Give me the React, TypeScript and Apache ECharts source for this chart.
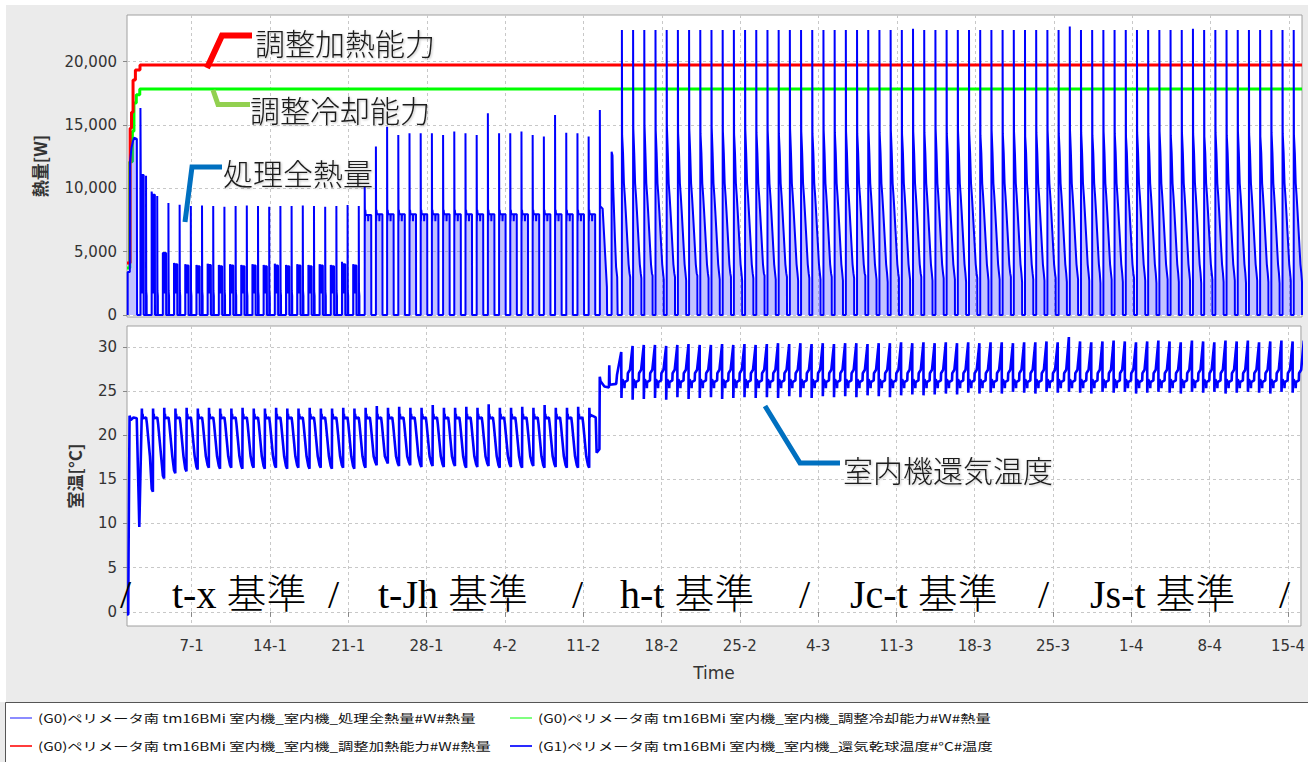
import React, { useEffect, useRef } from "react";
import * as echarts from "echarts";

// ---------------- axis ticks ----------------
// x unit: day number, 1.0 = 1 Jan 00:00
const xTickDays = [7, 14, 21, 28, 35, 42, 49, 56, 63, 70, 77, 84, 91, 98, 105];
const xTickLabels = ["7-1", "14-1", "21-1", "28-1", "4-2", "11-2", "18-2", "25-2", "4-3", "11-3", "18-3", "25-3", "1-4", "8-4", "15-4"];
const heatTicks = [0, 5000, 10000, 15000, 20000];
const heatTickLabels = ["0", "5,000", "10,000", "15,000", "20,000"];
const tempTicks = [0, 5, 10, 15, 20, 25, 30];

const seriesNames = [
  "(G0)ペリメータ南 tm16BMi 室内機_室内機_処理全熱量#W#熱量",
  "(G0)ペリメータ南 tm16BMi 室内機_室内機_調整冷却能力#W#熱量",
  "(G0)ペリメータ南 tm16BMi 室内機_室内機_調整加熱能力#W#熱量",
  "(G1)ペリメータ南 tm16BMi 室内機_室内機_還気乾球温度#°C#温度",
];

const phaseLabels = ["t-x 基準", "t-Jh 基準", "h-t 基準", "Jc-t 基準", "Js-t 基準"];

// ---------------- capacities (step: value from that day on) ----------------
const heatingCapacity: [number, number][] = [[1.22, 4100], [1.5, 14750], [1.62, 16000], [1.76, 18560], [1.97, 19350], [2.38, 19750], [106.16, 19750]];
const coolingCapacity: [number, number][] = [[1.22, 3700], [1.47, 12100], [1.7, 14500], [1.84, 16750], [2.05, 17400], [2.36, 17850], [106.16, 17850]];

// ---------------- 処理全熱量 (W) ----------------
const startupHeat: [number, number][] = [[1.28, 0], [1.28, 3400], [1.47, 3400], [1.49, 12100], [1.62, 13200], [1.75, 13700], [1.85, 14000], [2.1, 13900], [2.12, 0]];
// t-x period, days 2..21
const txBlockTop = [16350, 9750, 4900, 4100, 4000, 3950, 4050, 3950, 4000, 3950, 4000, 3950, 4050, 3950, 4000, 3950, 4000, 3950, 4200, 4000];
const txBlockLevel = [11050, 9500, 4900, 4000, 3900, 3850, 3950, 3850, 3900, 3850, 3900, 3850, 3900, 3850, 3900, 3850, 3900, 3850, 4000, 3900];
const txSpike = [11000, 9400, 8850, 8700, 8600, 8650, 8600, 8550, 8600, 8650, 8600, 8550, 8600, 8600, 8650, 8600, 8550, 8600, 8690, 8600];
// t-Jh period, days 22..42
const jhSpike = [10140, 13300, 14870, 14220, 14350, 14350, 14350, 14220, 14480, 14350, 14220, 15930, 14350, 14350, 14480, 14220, 14090, 15800, 14400, 14350, 14090];
const jhLevel = [7900, 7950, 7950, 7950, 7950, 7950, 7950, 7950, 7950, 7950, 7950, 7950, 7950, 7950, 7950, 7950, 7950, 7950, 7950, 7950, 7950];
// change-over days 43..44
const transitionHeat: [number, number][] = [[43.45, 0], [43.45, 16190], [43.465, 16190], [43.48, 8600], [43.7, 8400], [43.85, 6000], [44.0, 3500], [44.08, 2200], [44.1, 0], [44.5, 0], [44.5, 12900], [44.58, 12600], [44.62, 10660], [44.68, 9100], [44.8, 6000], [44.9, 3800], [45.0, 3000], [45.04, 0]];
// h-t / Jc-t / Js-t period, days 45..105
const csSpike = [22500, 22500, 22500, 22500, 22500, 22500, 22500, 22500, 22500, 22500, 22500, 22500, 22500, 22500, 22500, 22500, 22500, 22500, 22500, 22500, 22500, 22500, 22500, 22500, 22500, 22500, 22600, 22500, 22500, 22500, 22500, 22500, 22500, 22500, 22500, 22500, 22500, 22500, 22500, 22500, 22780, 22500, 22500, 22500, 22500, 22500, 22500, 22500, 22500, 22500, 22500, 22600, 22500, 22500, 22500, 22500, 22500, 22500, 22500, 22500, 22500];
const csTop = [14200, 14700, 15000, 14600, 14900, 14400, 14700, 14300, 14800, 14500, 14300, 14700, 14400, 14600, 14300, 14700, 14500, 14300, 14600, 14400, 14500, 14300, 14700, 14400, 14600, 14300, 14500, 14400, 14700, 14300, 14500, 14400, 14200, 14600, 14300, 14500, 14100, 14400, 14600, 14300, 14600, 14400, 14200, 14500, 14300, 14100, 14400, 14300, 14500, 14200, 14400, 14300, 14100, 14400, 14200, 14500, 14300, 14100, 14400, 14300, 14200];
const csEnd = [3000, 2900, 3100, 2800, 3000, 2700, 3100, 2900, 2800, 3000, 2700, 2900, 3100, 2800, 3000, 2700, 2900, 2800, 3000, 2700, 2900, 3100, 2800, 2600, 2900, 2800, 3000, 2700, 2900, 2800, 2600, 2900, 2700, 2800, 3000, 2600, 2800, 2700, 2900, 2600, 2800, 2700, 2500, 2800, 2600, 2900, 2700, 2500, 2800, 2600, 2700, 2500, 2800, 2600, 2700, 2500, 2700, 2600, 2500, 2700, 2600];

// ---------------- 室温 (°C) ----------------
const startupTemp: [number, number][] = [[1.22, -0.3], [1.33, -0.3], [1.36, 6.7], [1.45, 22.2], [1.55, 21.7], [1.8, 22.0], [2.09, 21.9], [2.32, 9.6]];
const txTempHigh = [23.0, 23.0, 23.1, 23.0, 23.1, 23.0, 23.1, 23.0, 23.0, 23.1, 23.0, 23.0, 23.1, 23.0, 23.0, 23.1, 23.0, 23.0, 23.1, 23.0];
const txTempLow = [13.6, 15.1, 15.7, 15.9, 16.1, 16.3, 16.2, 16.3, 16.2, 16.3, 16.2, 16.3, 16.2, 16.3, 16.2, 16.3, 16.2, 16.3, 16.2, 16.3];
const jhTempHigh = [23.1, 23.3, 23.1, 23.2, 23.1, 23.1, 23.4, 23.1, 23.1, 23.2, 23.1, 23.5, 23.1, 23.1, 23.2, 23.1, 23.4, 23.1, 23.1, 23.2];
const jhTempLow = [16.6, 16.8, 16.5, 16.6, 16.4, 16.5, 16.4, 16.5, 16.3, 16.4, 16.5, 16.3, 16.4, 16.3, 16.5, 16.3, 16.4, 16.3, 16.3, 16.3];
const transitionTemp: [number, number][] = [[42.55, 23.1], [42.58, 22.0], [42.65, 22.3], [43.12, 22.0], [43.2, 18.0], [43.45, 18.4], [43.48, 26.6], [43.55, 26.1], [43.9, 25.5], [44.3, 25.4], [44.33, 27.9], [44.37, 25.7], [44.95, 25.8], [45.02, 26.8], [45.4, 29.4]];
const csTempTop = [30.1, 30.2, 30.2, 30.1, 30.2, 30.3, 30.2, 30.2, 30.3, 30.2, 30.3, 30.2, 30.3, 30.4, 30.3, 30.4, 30.3, 30.4, 30.3, 30.4, 30.4, 30.3, 30.4, 30.4, 30.5, 30.4, 30.5, 30.4, 30.5, 30.4, 30.5, 30.4, 30.5, 30.5, 30.4, 30.5, 30.5, 30.6, 30.5, 31.1, 30.6, 30.5, 30.6, 30.7, 30.6, 30.5, 30.6, 30.7, 30.6, 30.5, 30.7, 30.6, 30.5, 30.7, 30.6, 30.7, 30.5, 30.6, 30.7, 30.6, 30.7];
const csTempBot = [24.2, 24.0, 24.1, 24.2, 24.0, 24.3, 24.1, 24.2, 24.3, 24.1, 24.2, 24.3, 24.2, 24.3, 24.2, 24.4, 24.3, 24.2, 24.4, 24.3, 24.4, 24.3, 24.5, 24.4, 24.3, 24.5, 24.6, 24.5, 24.6, 24.7, 24.6, 24.8, 24.7, 24.8, 24.7, 24.9, 24.8, 24.7, 24.9, 24.8, 24.9, 24.8, 24.7, 24.9, 24.8, 24.9, 24.7, 24.8, 24.9, 24.8, 24.7, 24.9, 24.8, 24.9, 24.7, 24.8, 24.9, 24.8, 24.7, 24.9, 24.8];

const TX_FIRST_DAY = 2;
const JH_FIRST_DAY = 22;
const CS_FIRST_DAY = 45;
const X_MIN = 1.22;
const X_MAX = 106.16;

type P = [number, number];

function buildHeat(): P[] {
  const pts: P[] = startupHeat.map((p) => [p[0], p[1]] as P);
  txSpike.forEach((pk, i) => {
    const d = TX_FIRST_DAY + i;
    const top = txBlockTop[i];
    const lv = txBlockLevel[i];
    pts.push(
      [d + 0.42, 0], [d + 0.42, top], [d + 0.45, lv], [d + 0.54, lv], [d + 0.55, 1700], [d + 0.57, lv],
      [d + 0.71, lv], [d + 0.72, 0], [d + 0.92, 0], [d + 0.92, pk], [d + 0.935, pk], [d + 0.94, 1900],
      [d + 0.975, 1500], [d + 0.98, 0]
    );
  });
  jhSpike.forEach((pk, i) => {
    const t = JH_FIRST_DAY + i + 0.45;
    const lv = jhLevel[i];
    pts.push(
      [t, 0], [t, pk], [t + 0.012, pk], [t + 0.02, 7400], [t + 0.05, 8300], [t + 0.09, lv],
      [t + 0.3, lv], [t + 0.31, 7400], [t + 0.33, lv], [t + 0.58, lv], [t + 0.59, 0]
    );
  });
  transitionHeat.forEach((p) => pts.push([p[0], p[1]]));
  csSpike.forEach((pk, i) => {
    const t = CS_FIRST_DAY + i + 0.42;
    pts.push(
      [t, 0], [t, pk], [t + 0.012, pk], [t + 0.02, csTop[i]], [t + 0.1, 12800], [t + 0.18, 10400],
      [t + 0.26, 9400], [t + 0.34, 8200], [t + 0.44, 6600], [t + 0.52, 5300], [t + 0.6, 4000],
      [t + 0.68, 3300], [t + 0.74, csEnd[i]], [t + 0.745, 0]
    );
  });
  return pts;
}

function buildTemp(): P[] {
  const pts: P[] = startupTemp.map((p) => [p[0], p[1]] as P);
  const day = (d: number, hi: number, lo: number) => {
    const t = d + 0.55;
    pts.push(
      [t, hi], [t + 0.02, 22.0], [t + 0.06, 22.4], [t + 0.09, 21.9], [t + 0.38, 22.0], [t + 0.45, 21.3],
      [t + 0.72, 17.6], [t + 0.88, lo + 0.3], [t + 0.985, lo]
    );
  };
  txTempHigh.forEach((hi, i) => day(TX_FIRST_DAY + i, hi, txTempLow[i]));
  jhTempHigh.forEach((hi, i) => day(JH_FIRST_DAY + i, hi, jhTempLow[i]));
  transitionTemp.forEach((p) => pts.push([p[0], p[1]]));
  csTempBot.forEach((bot, i) => {
    const t = CS_FIRST_DAY + i + 0.42;
    pts.push(
      [t, bot], [t + 0.03, 25.7], [t + 0.08, 26.3], [t + 0.2, 26.0], [t + 0.26, 26.1], [t + 0.27, 25.3],
      [t + 0.29, 26.0], [t + 0.55, 26.2], [t + 0.57, 27.0], [t + 0.76, 27.4], [t + 0.995, csTempTop[i]]
    );
  });
  return pts;
}

const TICK_FONT = "'DejaVu Sans', sans-serif";
const CJK_FONT = "'Noto Sans CJK JP', sans-serif";
const SERIF_FONT = "'Liberation Serif', 'Noto Sans CJK JP', serif";

function buildOption(): any {
  const gridLine = { show: true, lineStyle: { color: "#c8c8c8", type: [3, 3], width: 1 } };
  const xLabelFmt = (v: number) => {
    const i = xTickDays.indexOf(Math.round(v));
    return i >= 0 ? xTickLabels[i] : "";
  };
  const heatLabelFmt = (v: number) => {
    const i = heatTicks.indexOf(Math.round(v));
    return i >= 0 ? heatTickLabels[i] : "";
  };

  const legendColors = ["#8c8cff", "#80ff80", "#ff3c3c", "#2a2aff"];
  const legendEls: any[] = [];
  seriesNames.forEach((name, i) => {
    const col = i % 2;
    const row = Math.floor(i / 2);
    const x0 = col === 0 ? 10 : 510;
    const y0 = row === 0 ? 718 : 746;
    legendEls.push({
      type: "line", z: 100, silent: true,
      shape: { x1: x0, y1: y0, x2: x0 + 22, y2: y0 },
      style: { stroke: legendColors[i], lineWidth: 2 },
    });
    legendEls.push({
      type: "text", z: 100, silent: true, x: x0 + 28, y: y0, scaleX: 1.33,
      style: { text: name, fill: "#111", fontSize: 11.5, fontFamily: CJK_FONT, verticalAlign: "middle", align: "left" },
    });
  });

  const calloutText = (text: string, x: number, y: number) => ({
    type: "text", z: 110, silent: true, x, y,
    style: {
      text, fill: "#1a1a1a", fontSize: 30, fontWeight: 300, fontFamily: CJK_FONT, verticalAlign: "middle", align: "left",
      textShadowColor: "rgba(0,0,0,0.25)", textShadowBlur: 2, textShadowOffsetX: 1, textShadowOffsetY: 1,
    },
  });
  const callout = (points: number[][], color: string, w: number) => ({
    type: "polyline", z: 110, silent: true,
    shape: { points },
    style: { stroke: color, lineWidth: w, fill: null, lineJoin: "miter" },
  });

  const phaseX = [172, 378, 620, 850, 1090];
  const slashX = [120, 328, 572, 799, 1038, 1279];
  const phaseEls: any[] = [];
  phaseLabels.forEach((t, i) => {
    phaseEls.push({
      type: "text", z: 110, silent: true, x: phaseX[i], y: 594,
      style: { text: t, fill: "#000", fontSize: 40, fontWeight: 300, fontFamily: SERIF_FONT, verticalAlign: "middle", align: "left" },
    });
  });
  slashX.forEach((x) => {
    phaseEls.push({
      type: "text", z: 110, silent: true, x, y: 594,
      style: { text: "/", fill: "#000", fontSize: 40, fontFamily: SERIF_FONT, verticalAlign: "middle", align: "left" },
    });
  });

  return {
    animation: false,
    backgroundColor: "#ebebeb",
    grid: [
      { left: 127, top: 15, width: 1175, height: 302, show: true, backgroundColor: "#ffffff", borderColor: "#a0a0a0", borderWidth: 1 },
      { left: 127, top: 326, width: 1175, height: 300, show: true, backgroundColor: "#ffffff", borderColor: "#a0a0a0", borderWidth: 1 },
    ],
    xAxis: [
      {
        type: "value", gridIndex: 0, min: X_MIN, max: X_MAX,
        axisLine: { show: false },
        axisTick: { show: false, customValues: xTickDays },
        axisLabel: { show: false, customValues: xTickDays },
        splitLine: gridLine,
      },
      {
        type: "value", gridIndex: 1, min: X_MIN, max: X_MAX,
        name: "Time", nameLocation: "middle", nameGap: 38,
        nameTextStyle: { fontSize: 17, color: "#333", fontFamily: TICK_FONT },
        axisLine: { show: false },
        axisTick: { show: true, customValues: xTickDays, length: 5, lineStyle: { color: "#888" } },
        axisLabel: { customValues: xTickDays, formatter: xLabelFmt, margin: 12, fontSize: 15, color: "#333", fontFamily: TICK_FONT },
        splitLine: gridLine,
      },
    ],
    yAxis: [
      {
        type: "value", gridIndex: 0, min: -160, max: 23690,
        name: "熱量[W]", nameLocation: "middle", nameGap: 79,
        nameTextStyle: { fontSize: 17, fontWeight: "bold", color: "#333", fontFamily: CJK_FONT },
        axisLine: { show: false },
        axisTick: { show: true, customValues: heatTicks, length: 4, lineStyle: { color: "#888" } },
        axisLabel: { customValues: heatTicks, formatter: heatLabelFmt, margin: 10, fontSize: 15, color: "#333", fontFamily: TICK_FONT },
        splitLine: gridLine,
      },
      {
        type: "value", gridIndex: 1, min: -1.6, max: 32.35,
        name: "室温[°C]", nameLocation: "middle", nameGap: 44,
        nameTextStyle: { fontSize: 17, fontWeight: "bold", color: "#333", fontFamily: CJK_FONT },
        axisLine: { show: false },
        axisTick: { show: true, customValues: tempTicks, length: 4, lineStyle: { color: "#888" } },
        axisLabel: { customValues: tempTicks, margin: 10, fontSize: 15, color: "#333", fontFamily: TICK_FONT },
        splitLine: gridLine,
      },
    ],
    series: [
      {
        name: seriesNames[0], type: "line", xAxisIndex: 0, yAxisIndex: 0, data: buildHeat(),
        symbol: "none", silent: true, z: 4,
        lineStyle: { color: "#0000ff", width: 2 },
        itemStyle: { color: "#0000ff" },
        areaStyle: { color: "rgba(60,60,255,0.45)" },
      },
      {
        name: seriesNames[1], type: "line", xAxisIndex: 0, yAxisIndex: 0, data: coolingCapacity, step: "end",
        symbol: "none", silent: true, z: 3,
        lineStyle: { color: "#00ff00", width: 3 }, itemStyle: { color: "#00ff00" },
      },
      {
        name: seriesNames[2], type: "line", xAxisIndex: 0, yAxisIndex: 0, data: heatingCapacity, step: "end",
        symbol: "none", silent: true, z: 3,
        lineStyle: { color: "#ff0000", width: 3 }, itemStyle: { color: "#ff0000" },
      },
      {
        name: seriesNames[3], type: "line", xAxisIndex: 1, yAxisIndex: 1, data: buildTemp(),
        symbol: "none", silent: true, z: 4,
        lineStyle: { color: "#0000ff", width: 2.6 }, itemStyle: { color: "#0000ff" },
      },
    ],
    graphic: [
      { type: "rect", z: 100, silent: true, shape: { x: 0, y: 0, width: 1308, height: 5 }, style: { fill: "#ffffff" } },
      { type: "rect", z: 100, silent: true, shape: { x: 0, y: 0, width: 6, height: 702 }, style: { fill: "#ffffff" } },
      { type: "rect", z: 100, silent: true, shape: { x: 5.5, y: 702.5, width: 1320, height: 80 }, style: { fill: "#ffffff", stroke: "#555", lineWidth: 1 } },
      ...legendEls,
      callout([[207, 68], [222, 35.5], [252, 35.5]], "#ff0000", 6),
      callout([[213, 90], [218, 104.5], [250, 104.5]], "#92d050", 5),
      callout([[185, 222], [192, 167], [222, 167]], "#0070c0", 5),
      callout([[765, 406], [800, 463], [840, 463]], "#0070c0", 5),
      calloutText("調整加熱能力", 255, 42),
      calloutText("調整冷却能力", 250, 109),
      calloutText("処理全熱量", 223, 172),
      calloutText("室内機還気温度", 843, 469),
      ...phaseEls,
    ],
  };
}

export default function App() {
  const ref = useRef<HTMLDivElement>(null);
  useEffect(() => {
    if (!ref.current) return;
    const chart = echarts.init(ref.current, null, { renderer: "svg", width: 1308, height: 762 });
    chart.setOption(buildOption());
    return () => chart.dispose();
  }, []);
  return <div ref={ref} style={{ position: "fixed", left: 0, top: 0, width: 1308, height: 762 }} />;
}
